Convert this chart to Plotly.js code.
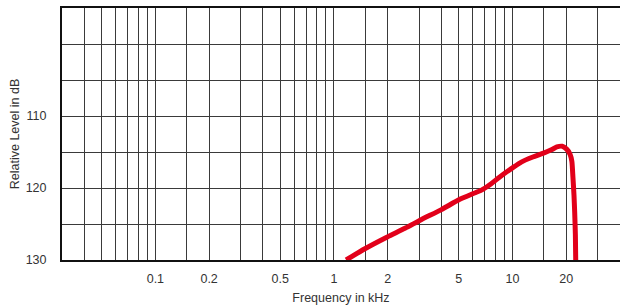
<!DOCTYPE html>
<html>
<head>
<meta charset="utf-8">
<script src="https://cdn.plot.ly/plotly-3.0.1.min.js"></script>
<style>html,body{margin:0;padding:0;background:#fff;}#chart{width:620px;height:307px;}</style>
</head>
<body>
<div id="chart"></div>
<script>
// Response curve (frequency in kHz, relative level in dB)
var freqKHz = [1.17, 1.5, 1.99, 2.5, 3.08, 4.0, 5.04, 6.0, 6.7, 7.6, 8.45, 10.0, 11.2, 13.0, 14.8, 16.5, 17.7, 19.0, 20.1, 21.0, 21.5, 21.8, 22.1, 22.3, 22.5, 22.6];
var levelDb = [130.0, 128.4, 126.8, 125.6, 124.4, 123.0, 121.6, 120.8, 120.3, 119.4, 118.5, 117.2, 116.4, 115.7, 115.2, 114.7, 114.3, 114.2, 114.6, 115.3, 116.3, 118.5, 121.0, 123.4, 126.5, 130.0];

// Axis grid and label values
var xGridVals = [0.04,0.05,0.06,0.07,0.08,0.09,0.1,0.15,0.2,0.3,0.4,0.5,0.6,0.7,0.8,0.9,1,1.5,2,3,4,5,6,7,8,9,10,15,20,30];
var xLabelVals = {"0.1":"0.1","0.2":"0.2","0.5":"0.5","1":"1","2":"2","5":"5","10":"10","20":"20"};
var yGridVals = [95,100,105,110,115,120,125,130];
var yLabelVals = {"110":"110","120":"120","130":"130"};

var xText = xGridVals.map(function(v){ return xLabelVals[String(v)] || ""; });
var yText = yGridVals.map(function(v){ return yLabelVals[String(v)] || ""; });

var font = {family: "Liberation Sans, Arial, sans-serif", size: 12.5, color: "#333"};

var trace = {
  x: freqKHz, y: levelDb, type: "scatter", mode: "lines",
  line: {color: "#e2001a", width: 5, shape: "spline", smoothing: 0.6},
  hoverinfo: "skip", cliponaxis: true
};

var layout = {
  width: 620, height: 307,
  margin: {l: 62, r: 0, t: 8, b: 47},
  paper_bgcolor: "#fff", plot_bgcolor: "#fff",
  showlegend: false,
  font: font,
  xaxis: {
    type: "log", range: [Math.log10(0.03), Math.log10(40)],
    tickmode: "array", tickvals: xGridVals, ticktext: xText,
    showgrid: true, gridcolor: "#3a3a3a", gridwidth: 1,
    showline: true, linecolor: "#111", linewidth: 2, mirror: true,
    ticks: "", ticklabelstandoff: 6, zeroline: false,
    tickfont: font,
    title: {text: "Frequency in kHz", font: font, standoff: 8}
  },
  yaxis: {
    range: [130, 95],
    tickmode: "array", tickvals: yGridVals, ticktext: yText,
    showgrid: true, gridcolor: "#3a3a3a", gridwidth: 1,
    showline: true, linecolor: "#111", linewidth: 2, mirror: true,
    ticks: "", ticklabelstandoff: 11, zeroline: false,
    tickfont: font,
    title: {text: "Relative Level in dB", font: font, standoff: 3}
  }
};

Plotly.newPlot("chart", [trace], layout, {displayModeBar: false, staticPlot: true});
</script>
</body>
</html>
